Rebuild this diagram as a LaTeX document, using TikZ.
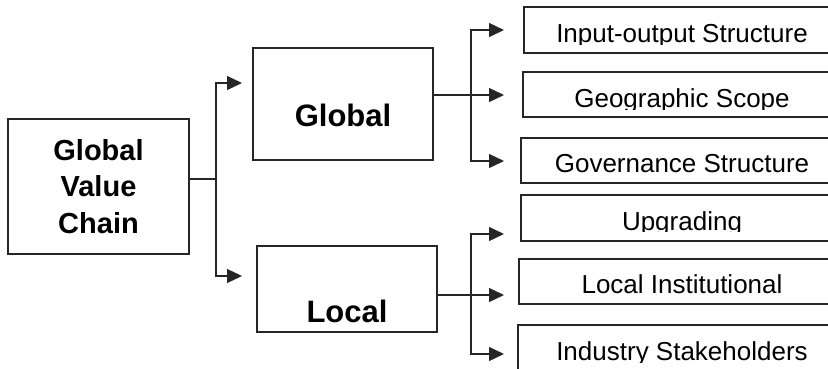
\documentclass[tikz,border=0pt]{standalone}
\usepackage{fontspec}
\setmainfont{Liberation Sans}
\usetikzlibrary{arrows.meta}

\tikzset{
  box/.style={draw=black!85, line width=1.3pt, rectangle, inner sep=0pt},
  head/.style={font=\fontsize{31}{36}\selectfont\bfseries, inner sep=0pt},
  item/.style={font=\fontsize{26}{30}\selectfont, inner sep=0pt},
  link/.style={draw=black!85, line width=1.3pt},
  feed/.style={link, -{Triangle[length=15pt,width=14pt]}}
}

\begin{document}
\begin{tikzpicture}[x=1pt, y=-1pt]
  \useasboundingbox (0,0) rectangle (828,368);
  \clip (0,0) rectangle (828,368);

  % chain and its two sides
  \node[box, minimum width=181pt, minimum height=135pt, align=center,
        font=\fontsize{29}{36.5}\selectfont\bfseries] (gvc) at (98.5,186.5) {Global\\Value\\Chain};
  \node[box, minimum width=180pt, minimum height=112pt] (glob) at (343,104) {};
  \node[box, minimum width=180pt, minimum height=86pt] (loc) at (347,289) {};
  \node[head, anchor=base] (glob-txt) at (343,126) {Global};
  \node[head, anchor=base] (loc-txt) at (347,322) {Local};

  % global dimensions
  \node[box, minimum width=316pt, minimum height=46pt] (io) at (682,30) {};
  \begin{scope}
    \clip (io.north west) rectangle ([yshift=9pt]io.south east);
    \node[item, anchor=base] (io-txt) at ([yshift=11pt]io.south) {Input-output Structure};
  \end{scope}
  \node[box, minimum width=318pt, minimum height=45pt] (geo) at (682,94.5) {};
  \begin{scope}
    \clip (geo.north west) rectangle ([yshift=8.5pt]geo.south east);
    \node[item, anchor=base] (geo-txt) at ([yshift=10pt]geo.south) {Geographic Scope};
  \end{scope}
  \node[box, minimum width=322pt, minimum height=45pt] (gov) at (682,160.5) {};
  \begin{scope}
    \clip (gov.north west) rectangle ([yshift=9pt]gov.south east);
    \node[item, anchor=base] (gov-txt) at ([yshift=11pt]gov.south) {Governance Structure};
  \end{scope}

  % local dimensions
  \node[box, minimum width=322pt, minimum height=46pt] (upg) at (682,218) {};
  \begin{scope}
    \clip (upg.north west) rectangle ([yshift=10pt]upg.south east);
    \node[item, anchor=base] (upg-txt) at ([yshift=11pt]upg.south) {Upgrading};
  \end{scope}
  \node[box, minimum width=326pt, minimum height=45pt] (inst) at (682,281.5) {};
  \begin{scope}
    \clip (inst.north west) rectangle ([yshift=9pt]inst.south east);
    \node[item, anchor=base] (inst-txt) at ([yshift=11pt]inst.south) {Local Institutional};
  \end{scope}
  \node[box, minimum width=328pt, minimum height=46pt] (ind) at (682,348) {};
  \begin{scope}
    \clip (ind.north west) rectangle ([yshift=9pt]ind.south east);
    \node[item, anchor=base] (ind-txt) at ([yshift=11pt]ind.south) {Industry Stakeholders};
  \end{scope}

  % forks
  \coordinate (gvc-fork) at (216,179);
  \coordinate (glob-in) at (242,83);
  \coordinate (loc-in) at (242,276);
  \coordinate (glob-fork) at (471,95);
  \coordinate (io-in) at (504,30);
  \coordinate (geo-in) at (504,95);
  \coordinate (gov-in) at (504,161);
  \coordinate (loc-fork) at (471,295);
  \coordinate (upg-in) at (504,234);
  \coordinate (inst-in) at (504,295);
  \coordinate (ind-in) at (504,354);

  \draw[link] (gvc.east |- gvc-fork) -- (gvc-fork);
  \draw[feed] (gvc-fork) |- (glob-in);
  \draw[feed] (gvc-fork) |- (loc-in);

  \draw[link] (glob.east |- glob-fork) -- (glob-fork);
  \draw[feed] (glob-fork) |- (io-in);
  \draw[feed] (glob-fork) -- (geo-in);
  \draw[feed] (glob-fork) |- (gov-in);

  \draw[link] (loc.east |- loc-fork) -- (loc-fork);
  \draw[feed] (loc-fork) |- (upg-in);
  \draw[feed] (loc-fork) -- (inst-in);
  \draw[feed] (loc-fork) |- (ind-in);
\end{tikzpicture}
\end{document}
